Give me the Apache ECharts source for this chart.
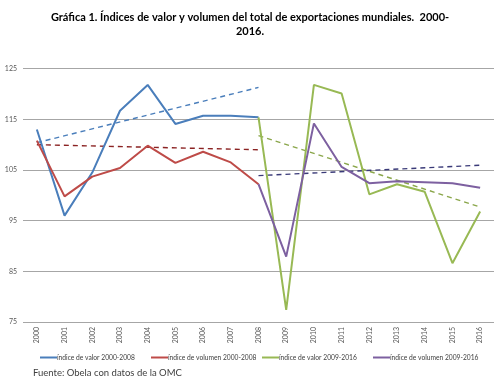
<!DOCTYPE html>
<html>
<head>
<meta charset="utf-8">
<script src="https://cdn.jsdelivr.net/npm/echarts@6/dist/echarts.min.js"></script>
<style>html,body{margin:0;padding:0;background:#fff}#c{width:500px;height:390px}</style>
</head>
<body>
<div id="c"></div>
<script>
var years = ['2000','2001','2002','2003','2004','2005','2006','2007','2008','2009','2010','2011','2012','2013','2014','2015','2016'];
var yTicks = {min: 75, max: 125, interval: 10};
// Índice de valor 2000-2008 (2000..2008)
var valor0008 = [113.0, 96.0, 104.5, 116.7, 121.8, 114.1, 115.7, 115.7, 115.4];
// Índice de volumen 2000-2008 (2000..2008)
var volumen0008 = [110.8, 99.8, 103.7, 105.4, 109.8, 106.4, 108.6, 106.5, 102.2];
// Índice de valor 2009-2016 (drawn from 2008..2016)
var valor0916 = [115.4, 77.4, 121.8, 120.1, 100.2, 102.2, 100.7, 86.6, 96.8];
// Índice de volumen 2009-2016 (drawn from 2008..2016)
var volumen0916 = [102.2, 87.9, 114.2, 105.6, 102.4, 102.8, 102.6, 102.4, 101.5];
// trend line endpoints
var trendValor0008 = [110.4, 121.3];
var trendVolumen0008 = [110.0, 109.0];
var trendValor0916 = [111.8, 97.7];
var trendVolumen0916 = [103.9, 105.95];

var names = ['índice de valor 2000-2008','índice de volumen 2000-2008','índice de valor 2009-2016','índice de volumen 2009-2016'];
var colors = ['#4a7ebb','#be4b48','#98b954','#7d60a0'];

function place(arr, start){
  var d = years.map(function(){return null;});
  for (var i=0;i<arr.length;i++) d[start+i]=arr[i];
  return d;
}
function trend(ends, start, end){
  var d = years.map(function(){return null;});
  d[start]=ends[0]; d[end]=ends[1];
  return d;
}

var chart = echarts.init(document.getElementById('c'), null, {renderer:'canvas'});
var fontFam = 'Lato, "Open Sans", sans-serif';
function mainSeries(i, data){
  return {name:names[i], type:'line', data:data, symbol:'none', connectNulls:false,
    lineStyle:{color:colors[i], width:2}, itemStyle:{color:colors[i]}, z:3};
}
function trendSeries(data, color){
  return {type:'line', data:data, symbol:'none', connectNulls:true, silent:true,
    lineStyle:{color:color, width:1.4, type:[5,4]}, z:2};
}
function legendAt(i, left){
  return {data:[names[i]], left:left, top:349, itemWidth:17, itemHeight:2, icon:'rect',
    textStyle:{fontSize:6.7, color:'#404040', fontFamily:fontFam, padding:[0,0,0,-5]}, selectedMode:false};
}
chart.setOption({
  animation:false,
  backgroundColor:'#fff',
  title:{text:'Gráfica 1. Índices de valor y volumen del total de exportaciones mundiales.  2000-\n2016.', left:'center', top:5,
    textStyle:{fontSize:11, fontWeight:'bold', color:'#000', fontFamily:'Lato, sans-serif', lineHeight:14}},
  grid:{left:23, right:6, top:68.7, bottom:68},
  legend:[legendAt(0,35), legendAt(1,146), legendAt(2,257), legendAt(3,368)],
  xAxis:{type:'category', data:years, boundaryGap:true,
    axisLine:{show:false}, axisTick:{show:false},
    axisLabel:{rotate:90, fontSize:7, color:'#595959', fontFamily:fontFam, margin:5}},
  yAxis:{type:'value', min:yTicks.min, max:yTicks.max, interval:yTicks.interval,
    axisLine:{show:false}, axisTick:{show:false},
    axisLabel:{fontSize:7, color:'#595959', fontFamily:fontFam, margin:6},
    splitLine:{lineStyle:{color:'#a6a6a6', width:1}}},
  graphic:[{type:'text', left:33, top:368, style:{text:'Fuente: Obela con datos de la OMC', fontSize:9.5, fill:'#404040', fontFamily:fontFam}}],
  series:[
    mainSeries(0, place(valor0008,0)),
    mainSeries(1, place(volumen0008,0)),
    mainSeries(2, place(valor0916,8)),
    mainSeries(3, place(volumen0916,8)),
    trendSeries(trend(trendValor0008,0,8), '#4a7ebb'),
    trendSeries(trend(trendVolumen0008,0,8), '#8b2323'),
    trendSeries(trend(trendValor0916,8,16), '#8aa64a'),
    trendSeries(trend(trendVolumen0916,8,16), '#3a3a78')
  ]
});
</script>
</body>
</html>
